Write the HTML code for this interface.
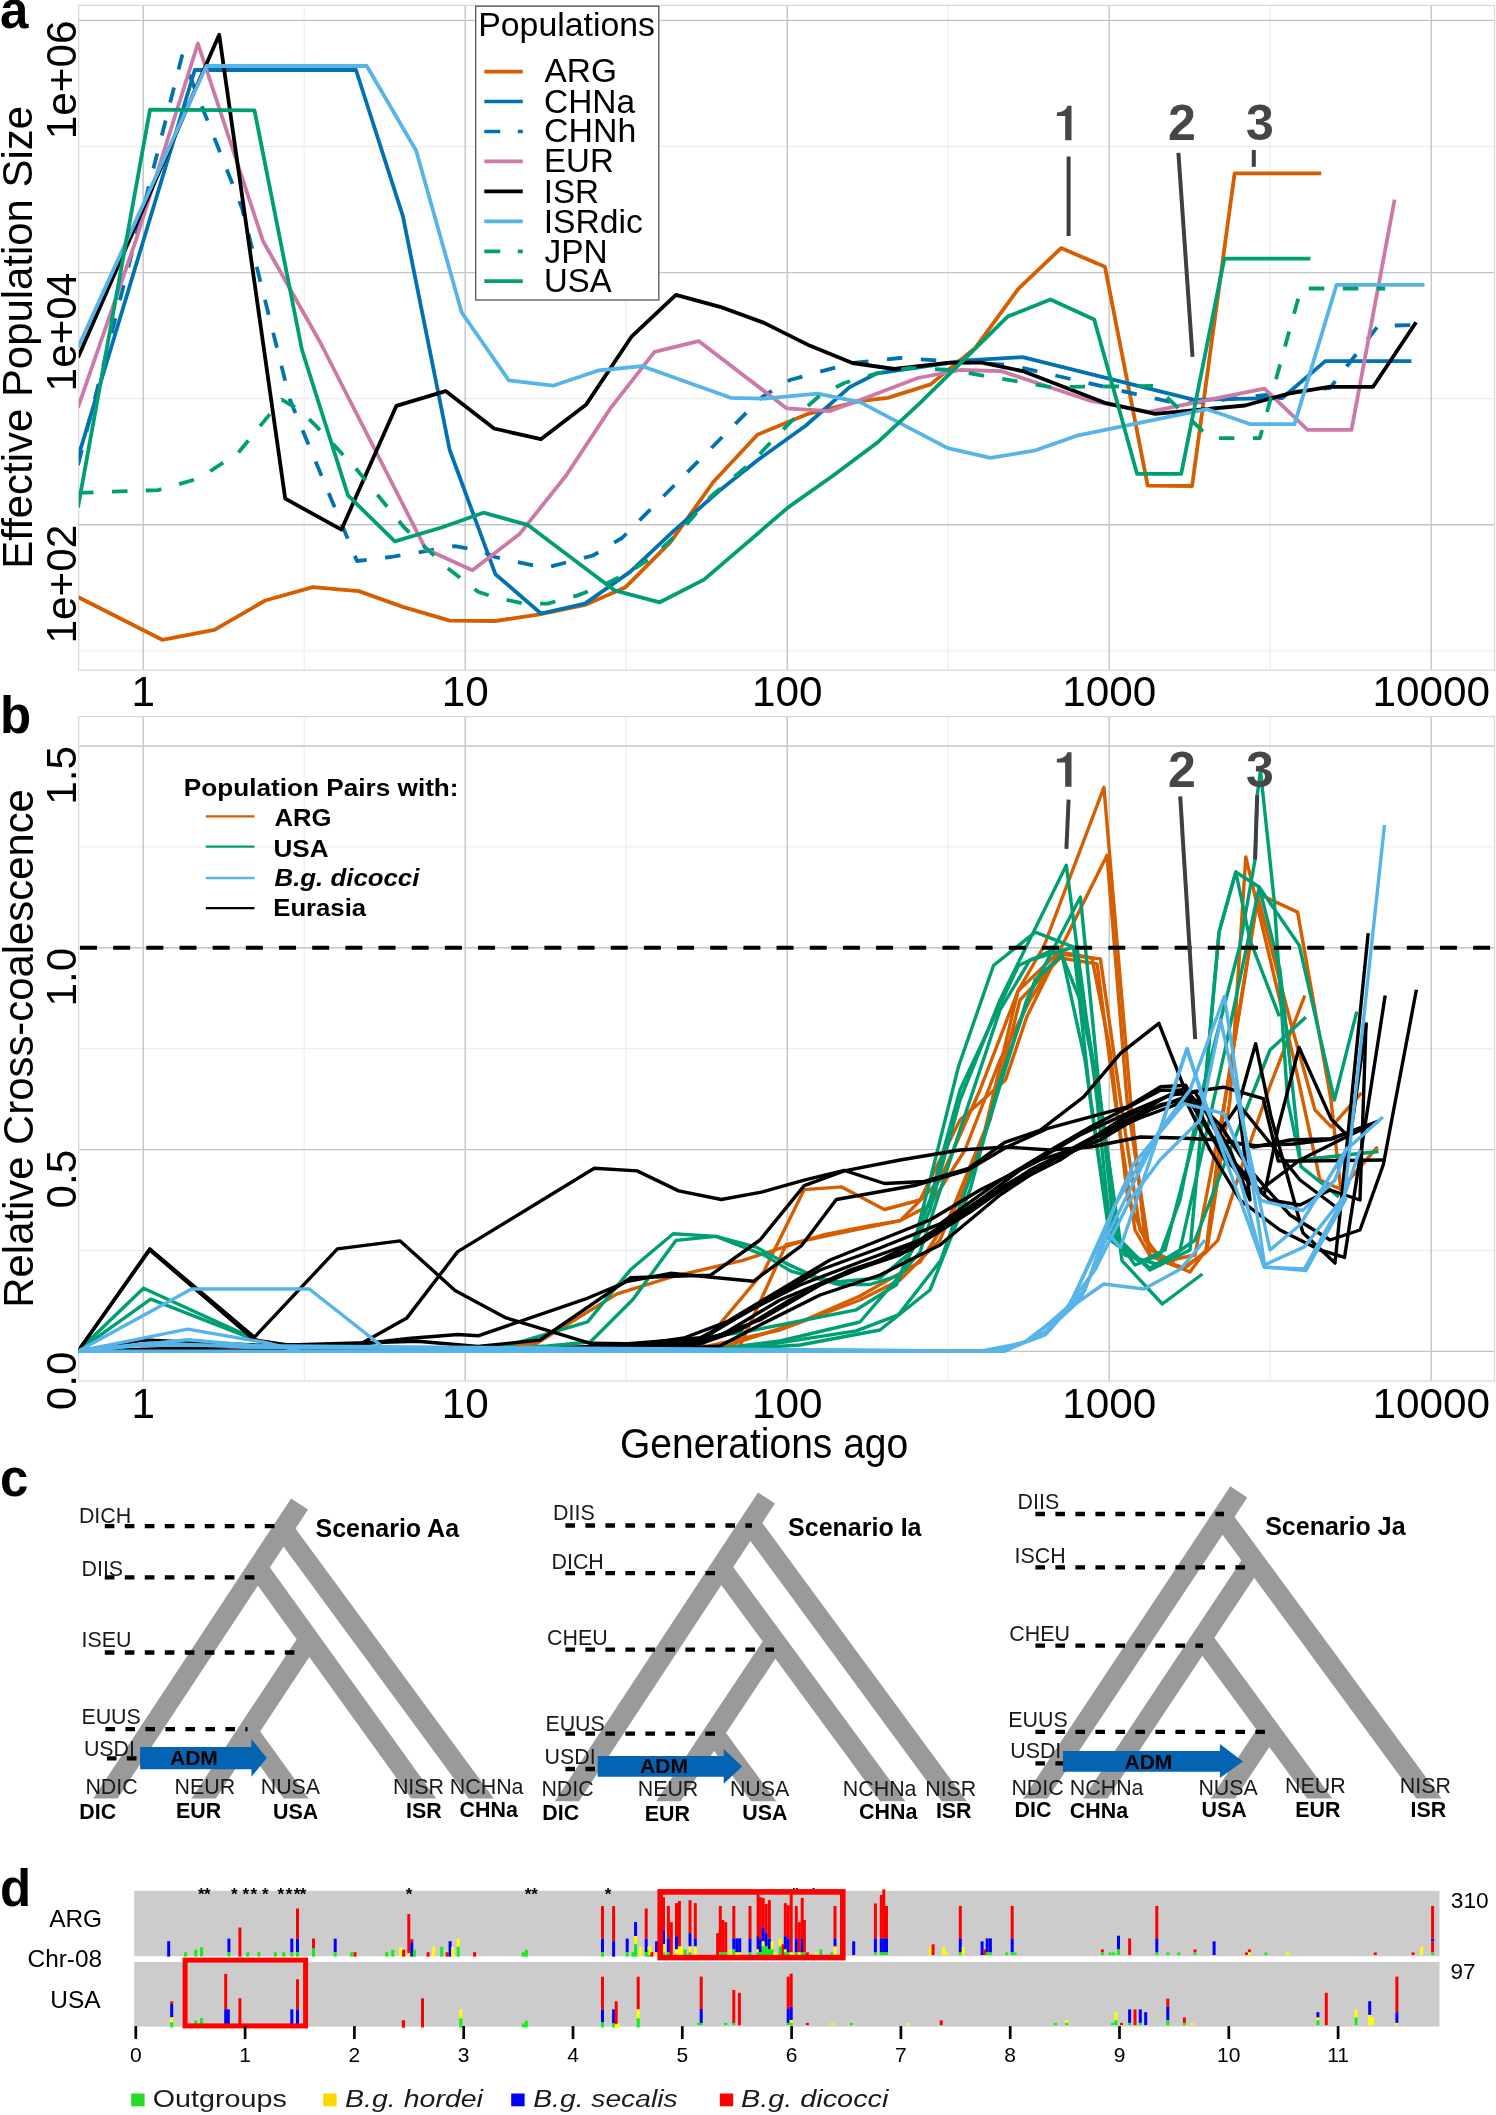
<!DOCTYPE html>
<html><head><meta charset="utf-8"><style>
html,body{margin:0;padding:0;background:#fff;overflow:hidden;width:1496px;height:2115px;}
svg{display:block;font-family:"Liberation Sans", sans-serif;will-change:transform;}
</style></head><body>
<svg width="1496" height="2115" viewBox="0 0 1496 2115">
<rect width="1496" height="2115" fill="#fff"/>
<line x1="304.2" y1="5.45" x2="304.2" y2="670.2" stroke="#ebebeb" stroke-width="1"/>
<line x1="626.2" y1="5.45" x2="626.2" y2="670.2" stroke="#ebebeb" stroke-width="1"/>
<line x1="948.2" y1="5.45" x2="948.2" y2="670.2" stroke="#ebebeb" stroke-width="1"/>
<line x1="1270.2" y1="5.45" x2="1270.2" y2="670.2" stroke="#ebebeb" stroke-width="1"/>
<line x1="78.7" y1="146.5" x2="1494.5" y2="146.5" stroke="#ebebeb" stroke-width="1"/>
<line x1="78.7" y1="398.7" x2="1494.5" y2="398.7" stroke="#ebebeb" stroke-width="1"/>
<line x1="78.7" y1="650.9" x2="1494.5" y2="650.9" stroke="#ebebeb" stroke-width="1"/>
<line x1="143.2" y1="5.45" x2="143.2" y2="670.2" stroke="#c4c4c4" stroke-width="1.4"/>
<line x1="465.2" y1="5.45" x2="465.2" y2="670.2" stroke="#c4c4c4" stroke-width="1.4"/>
<line x1="787.2" y1="5.45" x2="787.2" y2="670.2" stroke="#c4c4c4" stroke-width="1.4"/>
<line x1="1109.2" y1="5.45" x2="1109.2" y2="670.2" stroke="#c4c4c4" stroke-width="1.4"/>
<line x1="1431.2" y1="5.45" x2="1431.2" y2="670.2" stroke="#c4c4c4" stroke-width="1.4"/>
<line x1="78.7" y1="20.4" x2="1494.5" y2="20.4" stroke="#c4c4c4" stroke-width="1.4"/>
<line x1="78.7" y1="272.6" x2="1494.5" y2="272.6" stroke="#c4c4c4" stroke-width="1.4"/>
<line x1="78.7" y1="524.8" x2="1494.5" y2="524.8" stroke="#c4c4c4" stroke-width="1.4"/>
<rect x="78.7" y="5.45" width="1415.8" height="664.8" fill="none" stroke="#d8d8d8" stroke-width="1.2"/>
<line x1="304.2" y1="716.6" x2="304.2" y2="1381.0" stroke="#ebebeb" stroke-width="1"/>
<line x1="626.2" y1="716.6" x2="626.2" y2="1381.0" stroke="#ebebeb" stroke-width="1"/>
<line x1="948.2" y1="716.6" x2="948.2" y2="1381.0" stroke="#ebebeb" stroke-width="1"/>
<line x1="1270.2" y1="716.6" x2="1270.2" y2="1381.0" stroke="#ebebeb" stroke-width="1"/>
<line x1="78.7" y1="1250.5" x2="1494.5" y2="1250.5" stroke="#ebebeb" stroke-width="1"/>
<line x1="78.7" y1="1048.7" x2="1494.5" y2="1048.7" stroke="#ebebeb" stroke-width="1"/>
<line x1="78.7" y1="846.9" x2="1494.5" y2="846.9" stroke="#ebebeb" stroke-width="1"/>
<line x1="143.2" y1="716.6" x2="143.2" y2="1381.0" stroke="#c4c4c4" stroke-width="1.4"/>
<line x1="465.2" y1="716.6" x2="465.2" y2="1381.0" stroke="#c4c4c4" stroke-width="1.4"/>
<line x1="787.2" y1="716.6" x2="787.2" y2="1381.0" stroke="#c4c4c4" stroke-width="1.4"/>
<line x1="1109.2" y1="716.6" x2="1109.2" y2="1381.0" stroke="#c4c4c4" stroke-width="1.4"/>
<line x1="1431.2" y1="716.6" x2="1431.2" y2="1381.0" stroke="#c4c4c4" stroke-width="1.4"/>
<line x1="78.7" y1="1351.4" x2="1494.5" y2="1351.4" stroke="#c4c4c4" stroke-width="1.4"/>
<line x1="78.7" y1="1149.6" x2="1494.5" y2="1149.6" stroke="#c4c4c4" stroke-width="1.4"/>
<line x1="78.7" y1="947.8" x2="1494.5" y2="947.8" stroke="#c4c4c4" stroke-width="1.4"/>
<line x1="78.7" y1="746.0" x2="1494.5" y2="746.0" stroke="#c4c4c4" stroke-width="1.4"/>
<rect x="78.7" y="716.6" width="1415.8" height="664.4" fill="none" stroke="#d8d8d8" stroke-width="1.2"/>
<g clip-path="url(#clipA)">
<polyline points="78.0,597.0 162.2,639.8 214.4,629.9 265.2,600.5 312.8,587.1 358.7,591.1 402.9,606.9 449.7,620.6 495.4,621.0 539.5,614.3 585.0,605.0 625.1,587.6 670.5,542.1 713.3,482.0 757.4,434.7 808.2,413.8 860.0,401.0 887.8,397.9 930.6,384.4 975.5,347.6 1018.3,288.8 1061.1,248.1 1104.9,266.7 1147.7,485.6 1192.1,486.0 1234.6,173.4 1321.2,173.4" fill="none" stroke="#D55E00" stroke-width="3.8" stroke-linejoin="round" />
<polyline points="78.0,457.5 194.8,70.0 356.0,70.0 402.9,216.2 449.7,450.0 495.4,574.2 540.9,613.5 585.0,603.6 630.4,571.6 673.2,531.4 718.7,491.3 758.8,459.3 805.6,425.8 849.7,387.1 877.1,373.3 967.0,360.4 1022.6,357.2 1194.3,399.9 1282.3,398.0 1325.3,361.1 1411.4,361.1" fill="none" stroke="#0072B2" stroke-width="3.8" stroke-linejoin="round" />
<polyline points="78.0,465.0 182.0,56.0 242.0,208.0 290.0,400.0 357.0,561.0 390.8,557.0 455.0,546.2 478.0,550.2 495.0,557.0 545.0,568.0 593.0,555.5 622.0,538.0 762.0,397.0 790.0,380.0 852.0,363.0 900.0,358.0 960.0,362.0 1010.0,365.0 1180.0,404.3 1330.0,388.0 1378.0,326.0 1411.4,325.0" fill="none" stroke="#0072B2" stroke-width="3.8" stroke-linejoin="round" stroke-dasharray="15.5 18.5" />
<polyline points="78.0,407.5 136.0,240.0 197.9,43.5 263.0,241.0 320.0,342.0 425.6,548.9 472.4,570.3 519.5,534.1 566.3,475.3 610.4,408.4 654.5,351.8 698.6,341.1 786.8,408.4 829.6,411.1 860.0,400.0 917.8,378.0 960.5,370.0 1001.2,371.1 1091.0,401.0 1148.8,411.8 1264.5,388.6 1307.6,429.8 1351.5,429.8 1394.6,199.6" fill="none" stroke="#CC79A7" stroke-width="3.8" stroke-linejoin="round" />
<polyline points="78.0,357.5 219.2,34.7 285.2,498.6 341.4,529.7 396.3,405.9 445.6,391.1 494.1,428.5 540.9,439.2 586.3,404.4 631.8,336.3 675.9,294.8 720.0,306.8 764.1,322.9 809.6,345.6 852.4,363.0 894.2,369.0 949.8,362.6 981.9,362.6 1022.6,371.1 1106.0,403.2 1155.2,413.9 1244.9,405.5 1289.8,393.3 1329.1,386.8 1373.1,386.8 1416.1,322.2" fill="none" stroke="#000000" stroke-width="3.8" stroke-linejoin="round" />
<polyline points="78.0,347.5 206.3,66.0 366.8,66.0 416.2,150.7 461.7,312.5 508.8,380.4 552.9,385.7 598.3,370.5 642.5,366.2 730.7,397.8 764.1,398.6 817.6,393.7 860.0,402.1 947.7,448.1 990.5,457.8 1034.3,450.7 1078.2,435.3 1170.0,416.7 1207.4,409.2 1250.5,424.2 1294.5,424.2 1336.6,284.8 1424.5,284.8" fill="none" stroke="#56B4E9" stroke-width="3.8" stroke-linejoin="round" />
<polyline points="78.0,492.8 158.2,490.1 200.0,478.0 238.4,452.6 281.7,399.7 300.0,410.0 316.0,425.9 356.1,468.7 404.2,527.5 447.0,567.6 478.0,591.7 494.0,597.0 523.5,603.6 547.5,603.6 577.0,595.6 598.3,587.6 627.8,572.9 654.5,555.5 683.9,527.4 710.6,496.7 753.4,460.6 777.5,435.2 798.9,413.8 820.3,395.1 844.3,383.0 877.0,373.3 909.0,368.0 950.0,370.0 1050.0,387.0 1155.0,386.0 1210.0,438.0 1259.8,438.2 1301.0,288.5 1385.2,288.5" fill="none" stroke="#009E73" stroke-width="3.8" stroke-linejoin="round" stroke-dasharray="15.5 18.5" />
<polyline points="78.0,507.5 150.0,109.7 254.5,110.4 302.0,350.0 348.0,495.4 394.8,541.4 441.6,527.5 483.4,512.7 527.5,524.8 614.4,590.3 659.8,602.3 704.0,579.6 788.2,507.4 833.6,475.3 877.1,442.8 919.9,403.2 1007.6,316.6 1050.4,299.5 1094.2,319.4 1137.0,473.8 1181.2,473.8 1224.3,258.6 1310.4,258.6" fill="none" stroke="#009E73" stroke-width="3.8" stroke-linejoin="round" />
</g>
<defs><clipPath id="clipA"><rect x="78.7" y="5.45" width="1415.8" height="664.75"/></clipPath><clipPath id="clipB"><rect x="78.7" y="716.6" width="1415.8" height="664.4"/></clipPath></defs>
<line x1="1068.6" y1="156.5" x2="1068.6" y2="236" stroke="#3b4045" stroke-width="4"/>
<line x1="1178.4" y1="152.8" x2="1192.5" y2="356.8" stroke="#3b4045" stroke-width="4"/>
<line x1="1253.8" y1="150" x2="1253.8" y2="166.8" stroke="#3b4045" stroke-width="4"/>
<path transform="translate(0,0)" d="M1065.2,140.2 L1071.5,140.2 L1071.5,105.7 L1067.4,105.7 C1066.5,109.5 1063,112 1057,112.3 L1056.8,115.9 L1065.2,115.9 Z" fill="#464646"/>
<text x="1182.0" y="140.0" font-size="50" text-anchor="middle" font-weight="bold" font-style="normal" fill="#464646" >2</text>
<text x="1260.0" y="140.0" font-size="50" text-anchor="middle" font-weight="bold" font-style="normal" fill="#464646" >3</text>
<g clip-path="url(#clipB)">
<polyline points="78.0,1351.2 400.0,1351.2 536.8,1343.3 617.0,1293.9 673.2,1276.5 742.7,1260.4 788.2,1245.7 822.9,1235.0 870.0,1225.7 900.4,1220.6 940.0,1180.0 980.0,1090.0 1018.0,991.0 1044.0,946.0 1103.9,787.4 1130.5,1100.0 1145.0,1240.0 1165.0,1262.0 1185.0,1268.0 1207.0,1250.0 1230.0,1100.0 1245.8,856.9 1294.0,1060.0 1320.0,1180.0 1340.7,1189.3" fill="none" stroke="#D55E00" stroke-width="3.4" stroke-linejoin="round" />
<polyline points="78.0,1351.2 650.0,1351.2 702.6,1344.7 764.1,1271.1 804.2,1189.6 841.7,1186.9 884.4,1209.5 920.0,1200.0 960.0,1120.0 1005.5,1080.0 1026.8,1016.7 1107.0,855.2 1127.0,1100.0 1150.0,1255.0 1190.0,1272.0 1206.0,1250.0 1225.0,1100.0 1258.0,893.7 1297.6,912.1 1331.0,1100.0 1340.7,1189.3 1377.6,1146.8" fill="none" stroke="#D55E00" stroke-width="3.4" stroke-linejoin="round" />
<polyline points="78.0,1351.2 700.0,1348.0 780.0,1330.0 860.0,1300.0 900.0,1280.0 940.0,1240.0 985.0,1130.0 1018.0,991.0 1057.0,953.8 1100.4,958.9 1120.5,1100.0 1140.0,1230.0 1162.0,1262.0 1195.0,1255.0 1225.0,1100.0 1258.0,897.0 1290.0,1020.0 1315.0,1110.0 1331.3,1126.9 1361.5,1092.9" fill="none" stroke="#D55E00" stroke-width="3.4" stroke-linejoin="round" />
<polyline points="78.0,1351.2 720.0,1348.0 800.0,1322.0 860.0,1296.0 920.0,1262.0 960.0,1200.0 990.0,1120.0 1020.0,1000.0 1060.0,958.0 1097.1,963.9 1115.0,1100.0 1135.0,1230.0 1150.0,1256.0 1181.6,1268.5 1204.6,1253.6 1217.8,1240.4 1242.4,1164.7 1268.9,1089.0 1304.8,995.5" fill="none" stroke="#D55E00" stroke-width="3.4" stroke-linejoin="round" />
<polyline points="78.0,1351.2 740.0,1346.0 786.1,1244.6 830.0,1235.0 900.4,1220.6 930.0,1205.0 965.0,1150.0 1000.0,1060.0 1030.0,1000.0 1060.0,952.0 1092.0,958.0 1110.0,1050.0 1128.0,1200.0 1150.0,1250.0 1175.0,1262.0" fill="none" stroke="#D55E00" stroke-width="3.4" stroke-linejoin="round" />
<polyline points="78.0,1351.2 143.5,1288.2 265.2,1343.8 420.0,1351.2 502.1,1347.3 587.6,1321.9 630.4,1269.8 673.2,1233.7 716.0,1236.4 756.1,1247.1 785.5,1263.1 817.6,1277.8 839.0,1281.8 880.4,1277.7 912.4,1250.7 958.6,1066.2 993.5,965.5 1035.3,932.1 1073.7,947.2 1090.4,1100.0 1110.0,1240.0 1140.0,1262.0 1165.0,1250.0 1204.0,1100.0 1219.1,932.1 1235.8,872.0 1259.2,887.0 1299.3,945.5 1334.4,1100.0 1356.8,1011.6" fill="none" stroke="#009E73" stroke-width="3.4" stroke-linejoin="round" />
<polyline points="78.0,1351.2 150.7,1299.2 265.2,1343.8 450.0,1351.2 547.5,1346.0 590.3,1342.0 633.1,1299.2 675.9,1240.4 716.0,1236.4 764.1,1255.1 790.9,1271.1 839.0,1284.5 870.0,1284.5 900.0,1275.0 930.0,1200.0 960.0,1090.0 1018.5,965.5 1058.6,947.2 1080.0,1000.0 1100.4,1100.0 1115.0,1240.0 1150.0,1268.0 1180.0,1250.0 1225.0,1050.0 1259.2,887.0 1280.0,970.0 1301.0,1166.6 1338.8,1196.9" fill="none" stroke="#009E73" stroke-width="3.4" stroke-linejoin="round" />
<polyline points="78.0,1351.2 300.0,1351.2 600.0,1349.5 740.0,1332.9 856.3,1309.8 896.4,1284.7 930.0,1210.0 960.0,1100.0 1000.0,1000.0 1066.3,865.3 1097.1,1100.0 1110.0,1230.0 1135.0,1265.0 1160.0,1255.0 1180.0,1200.0 1200.0,1100.0 1240.0,945.0 1255.1,859.5 1257.2,795.3 1260.5,771.0 1274.2,900.4 1287.6,1100.0 1300.0,1160.0 1378.6,1151.5" fill="none" stroke="#009E73" stroke-width="3.4" stroke-linejoin="round" />
<polyline points="78.0,1351.2 300.0,1351.2 740.0,1348.9 856.3,1330.9 898.4,1314.8 940.5,1260.7 980.0,1150.0 1026.7,1000.0 1080.4,897.0 1100.4,1100.0 1122.0,1260.6 1162.3,1304.0 1202.4,1274.0" fill="none" stroke="#009E73" stroke-width="3.4" stroke-linejoin="round" />
<polyline points="78.0,1351.2 143.0,1340.0 250.0,1347.0 700.0,1351.2 780.0,1341.0 860.0,1322.0 920.0,1252.0 960.0,1130.0 1000.0,1010.0 1030.0,960.0 1073.7,947.2 1100.0,1100.0 1120.0,1240.0 1150.0,1270.0 1190.0,1250.0 1219.0,932.0 1235.8,872.0 1250.0,940.0 1279.3,1016.3" fill="none" stroke="#009E73" stroke-width="3.4" stroke-linejoin="round" />
<polyline points="78.0,1351.2 700.0,1351.2 800.0,1345.0 880.0,1330.0 930.0,1290.0 970.0,1190.0 1000.0,1080.0 1035.0,980.0 1062.0,955.0 1085.0,1060.0 1105.0,1200.0 1125.0,1255.0 1160.0,1265.0 1195.0,1240.0 1230.0,1150.0 1270.0,1050.0 1305.8,1017.2" fill="none" stroke="#009E73" stroke-width="3.4" stroke-linejoin="round" />
<polyline points="78.0,1351.2 149.7,1248.9 254.5,1337.2 337.4,1248.9 400.2,1240.9 455.0,1290.4 506.1,1317.9 590.3,1343.3 643.8,1343.9 683.9,1338.0 726.7,1321.9 780.0,1290.0 830.0,1260.0 880.0,1240.0 930.0,1220.0 980.0,1190.0 1040.0,1160.0 1100.0,1140.0 1160.0,1100.0 1185.0,1088.0 1214.0,1140.0 1255.6,1145.8 1293.5,1144.0 1331.3,1139.2 1378.6,1121.2" fill="none" stroke="#000000" stroke-width="3.4" stroke-linejoin="round" />
<polyline points="78.0,1351.2 149.7,1250.0 254.5,1340.0 300.0,1347.0 500.0,1351.2 600.0,1347.0 700.0,1342.0 760.0,1320.0 820.0,1285.0 880.0,1260.0 940.0,1230.0 1000.0,1190.0 1060.0,1160.0 1120.0,1120.0 1170.0,1095.0 1223.5,1087.2 1263.2,1098.6 1278.3,1161.0 1301.0,1161.0 1384.2,1160.0" fill="none" stroke="#000000" stroke-width="3.4" stroke-linejoin="round" />
<polyline points="78.0,1351.2 143.0,1340.0 254.5,1345.0 356.0,1346.5 406.9,1317.9 457.7,1251.6 594.3,1168.2 637.1,1170.9 678.6,1190.9 721.3,1199.5 761.4,1192.2 804.2,1180.2 844.3,1170.4 884.4,1183.5 924.5,1181.5 968.6,1168.4 1004.7,1142.4 1040.0,1130.3 1083.7,1096.9 1120.5,1053.4 1158.9,1023.3 1189.0,1100.2 1214.0,1140.0 1238.6,1104.2 1255.6,1043.7 1270.8,1115.6 1302.9,1232.8 1335.0,1263.1 1368.2,933.1" fill="none" stroke="#000000" stroke-width="3.4" stroke-linejoin="round" />
<polyline points="78.0,1351.2 300.0,1351.2 408.2,1338.5 457.7,1334.5 478.0,1335.8 585.0,1299.2 627.8,1281.3 670.5,1273.3 753.4,1281.3 801.5,1245.7 836.3,1199.5 914.5,1185.5 968.0,1170.0 1006.8,1147.0 1046.9,1128.6 1127.2,1106.9 1160.6,1086.8 1185.7,1085.2 1214.1,1140.3 1264.2,1195.0 1278.3,1127.0 1299.1,1047.5 1331.3,1119.4 1344.5,1132.6" fill="none" stroke="#000000" stroke-width="3.4" stroke-linejoin="round" />
<polyline points="78.0,1351.2 417.6,1341.2 478.0,1346.5 540.0,1340.0 630.4,1277.8 710.6,1275.1 760.0,1240.0 804.2,1185.6 844.3,1170.9 900.0,1160.0 960.0,1150.0 1006.8,1147.0 1050.0,1150.0 1090.4,1147.0 1140.5,1137.0 1180.0,1138.0 1224.1,1140.3 1254.2,1147.0 1290.0,1140.0 1331.0,1138.7 1367.8,1125.0" fill="none" stroke="#000000" stroke-width="3.4" stroke-linejoin="round" />
<polyline points="78.0,1351.2 500.0,1351.2 600.0,1346.0 700.0,1338.0 760.0,1305.0 820.0,1270.0 880.0,1248.0 940.0,1223.9 1000.2,1180.4 1050.3,1150.3 1090.4,1127.0 1160.6,1090.2 1180.6,1090.2 1210.0,1150.0 1240.0,1200.0 1280.0,1230.0 1320.0,1250.0 1344.5,1257.4 1385.2,995.5" fill="none" stroke="#000000" stroke-width="3.4" stroke-linejoin="round" />
<polyline points="78.0,1351.2 520.0,1351.2 620.0,1346.0 700.0,1340.0 750.0,1310.0 800.0,1285.0 860.0,1262.0 920.0,1240.0 980.0,1200.0 1040.0,1165.0 1100.0,1140.0 1150.0,1110.0 1190.0,1095.0 1220.0,1125.0 1250.0,1170.0 1290.0,1215.0 1330.0,1240.0 1360.0,1230.0 1383.3,1164.7 1416.4,989.8" fill="none" stroke="#000000" stroke-width="3.4" stroke-linejoin="round" />
<polyline points="78.0,1351.2 560.0,1351.2 650.0,1346.0 720.0,1336.0 780.0,1300.0 840.0,1275.0 900.0,1255.0 960.0,1215.0 1020.0,1170.0 1080.0,1135.0 1130.0,1112.0 1170.0,1095.0 1195.0,1092.0 1230.0,1150.0 1250.0,1200.0 1238.6,1104.2 1300.0,1180.0 1340.0,1210.0 1366.3,1022.9" fill="none" stroke="#000000" stroke-width="3.4" stroke-linejoin="round" />
<polyline points="78.0,1351.2 600.0,1351.2 700.0,1344.0 740.0,1330.0 790.0,1300.0 850.0,1270.0 910.0,1250.0 970.0,1212.0 1030.0,1170.0 1090.0,1140.0 1140.0,1118.0 1175.0,1105.0 1200.0,1100.0 1235.0,1170.0 1270.0,1200.0 1300.0,1205.0 1330.0,1190.0 1360.0,1200.0 1366.1,1022.4" fill="none" stroke="#000000" stroke-width="3.4" stroke-linejoin="round" />
<polyline points="78.0,1351.2 640.0,1351.2 720.0,1346.0 760.0,1325.0 820.0,1295.0 880.0,1275.0 940.0,1245.0 1000.0,1195.0 1060.0,1155.0 1110.0,1128.0 1160.0,1105.0 1190.0,1098.0 1225.0,1160.0 1260.0,1190.0 1300.0,1160.0 1340.0,1140.0 1378.6,1121.2" fill="none" stroke="#000000" stroke-width="3.4" stroke-linejoin="round" />
<polyline points="78.0,1351.2 191.6,1289.0 309.3,1289.0 388.2,1351.2 980.0,1351.2 1023.6,1343.0 1065.3,1310.8 1103.8,1284.0 1143.9,1289.0 1180.6,1269.0 1205.0,1240.0" fill="none" stroke="#56B4E9" stroke-width="3.4" stroke-linejoin="round" />
<polyline points="78.0,1351.2 187.6,1329.1 265.2,1342.5 300.0,1351.2 990.0,1351.2 1025.0,1342.0 1066.0,1312.0 1105.4,1230.6 1120.5,1247.3 1140.0,1190.0 1187.3,1048.4 1204.0,1103.6 1240.0,1180.0 1264.2,1267.3 1304.3,1269.0 1344.4,1197.1 1384.5,825.0" fill="none" stroke="#56B4E9" stroke-width="3.4" stroke-linejoin="round" />
<polyline points="78.0,1351.2 187.6,1339.8 270.0,1347.0 1000.0,1351.2 1030.0,1340.0 1070.0,1305.0 1133.9,1163.7 1184.0,1103.6 1224.1,1113.6 1260.9,1200.5 1302.6,1210.5 1335.0,1180.0 1346.0,1150.0 1382.9,1116.9" fill="none" stroke="#56B4E9" stroke-width="3.4" stroke-linejoin="round" />
<polyline points="78.0,1351.2 150.0,1343.0 250.0,1347.0 1000.0,1351.2 1040.0,1337.0 1080.0,1300.0 1110.0,1230.0 1160.0,1130.0 1190.0,1090.0 1224.4,996.4 1264.6,1264.9 1304.3,1246.9 1344.0,1196.3 1360.0,1150.0" fill="none" stroke="#56B4E9" stroke-width="3.4" stroke-linejoin="round" />
<polyline points="78.0,1351.2 143.0,1345.0 1000.0,1351.2 1045.0,1335.0 1085.0,1290.0 1115.0,1205.0 1160.0,1130.0 1186.6,1049.4 1215.0,1130.0 1264.2,1266.9 1305.8,1270.6 1346.4,1197.8" fill="none" stroke="#56B4E9" stroke-width="3.4" stroke-linejoin="round" />
<polyline points="78.0,1351.2 1005.0,1351.2 1050.0,1330.0 1095.0,1270.0 1130.0,1200.0 1160.0,1160.0 1200.0,1120.0 1220.7,1020.0 1240.0,1110.0 1270.0,1250.0 1300.0,1225.0 1347.7,1147.0" fill="none" stroke="#56B4E9" stroke-width="3.4" stroke-linejoin="round" />
</g>
<line x1="80" y1="947.8" x2="1494" y2="947.8" stroke="#000" stroke-width="4" stroke-dasharray="17 16.17"/>
<line x1="1068.6" y1="799.6" x2="1066.4" y2="848.8" stroke="#3b4045" stroke-width="4"/>
<line x1="1180.2" y1="796.4" x2="1195.2" y2="1039.1" stroke="#3b4045" stroke-width="4"/>
<line x1="1257.2" y1="795.3" x2="1255.1" y2="859.5" stroke="#3b4045" stroke-width="4"/>
<path transform="translate(0,646.5)" d="M1065.2,140.2 L1071.5,140.2 L1071.5,105.7 L1067.4,105.7 C1066.5,109.5 1063,112 1057,112.3 L1056.8,115.9 L1065.2,115.9 Z" fill="#464646"/>
<text x="1182.0" y="786.7" font-size="50" text-anchor="middle" font-weight="bold" font-style="normal" fill="#464646" >2</text>
<text x="1260.0" y="786.7" font-size="50" text-anchor="middle" font-weight="bold" font-style="normal" fill="#464646" >3</text>
<text x="143.2" y="706.4" font-size="42.3" text-anchor="middle" font-weight="normal" font-style="normal" fill="#000" >1</text>
<text x="143.2" y="1418.1" font-size="42.3" text-anchor="middle" font-weight="normal" font-style="normal" fill="#000" >1</text>
<text x="465.2" y="706.4" font-size="42.3" text-anchor="middle" font-weight="normal" font-style="normal" fill="#000" >10</text>
<text x="465.2" y="1418.1" font-size="42.3" text-anchor="middle" font-weight="normal" font-style="normal" fill="#000" >10</text>
<text x="787.2" y="706.4" font-size="42.3" text-anchor="middle" font-weight="normal" font-style="normal" fill="#000" >100</text>
<text x="787.2" y="1418.1" font-size="42.3" text-anchor="middle" font-weight="normal" font-style="normal" fill="#000" >100</text>
<text x="1109.2" y="706.4" font-size="42.3" text-anchor="middle" font-weight="normal" font-style="normal" fill="#000" >1000</text>
<text x="1109.2" y="1418.1" font-size="42.3" text-anchor="middle" font-weight="normal" font-style="normal" fill="#000" >1000</text>
<text x="1431.2" y="706.4" font-size="42.3" text-anchor="middle" font-weight="normal" font-style="normal" fill="#000" >10000</text>
<text x="1431.2" y="1418.1" font-size="42.3" text-anchor="middle" font-weight="normal" font-style="normal" fill="#000" >10000</text>
<text transform="translate(76.0,20.4) rotate(-90)" font-size="42.3" text-anchor="end" font-weight="normal">1e+06</text>
<text transform="translate(76.0,272.6) rotate(-90)" font-size="42.3" text-anchor="end" font-weight="normal">1e+04</text>
<text transform="translate(76.0,524.8) rotate(-90)" font-size="42.3" text-anchor="end" font-weight="normal">1e+02</text>
<text transform="translate(76.0,1351.4) rotate(-90)" font-size="42.3" text-anchor="end" font-weight="normal">0.0</text>
<text transform="translate(76.0,1149.6) rotate(-90)" font-size="42.3" text-anchor="end" font-weight="normal">0.5</text>
<text transform="translate(76.0,947.8) rotate(-90)" font-size="42.3" text-anchor="end" font-weight="normal">1.0</text>
<text transform="translate(76.0,746.0) rotate(-90)" font-size="42.3" text-anchor="end" font-weight="normal">1.5</text>
<text transform="translate(32.4,337.3) rotate(-90)" font-size="42" text-anchor="middle" font-weight="normal" textLength="462.69" lengthAdjust="spacingAndGlyphs">Effective Population Size</text>
<text transform="translate(33.0,1048.4) rotate(-90)" font-size="42" text-anchor="middle" font-weight="normal" textLength="518.49" lengthAdjust="spacingAndGlyphs">Relative Cross-coalescence</text>
<text x="620.0" y="1457.5" font-size="42.5" text-anchor="start" font-weight="normal" font-style="normal" fill="#000" textLength="288.20" lengthAdjust="spacingAndGlyphs" >Generations ago</text>
<text x="0.0" y="27.6" font-size="51" text-anchor="start" font-weight="bold" font-style="normal" fill="#000" >a</text>
<text x="0.0" y="733.0" font-size="51" text-anchor="start" font-weight="bold" font-style="normal" fill="#000" >b</text>
<text x="0.0" y="1495.8" font-size="51" text-anchor="start" font-weight="bold" font-style="normal" fill="#000" >c</text>
<text x="0.0" y="1906.4" font-size="51" text-anchor="start" font-weight="bold" font-style="normal" fill="#000" >d</text>
<rect x="475.7" y="6.2" width="183.1" height="293.8" fill="#fff" stroke="#555" stroke-width="1.3"/>
<text x="478.2" y="36.0" font-size="33.2" text-anchor="start" font-weight="normal" font-style="normal" fill="#000" textLength="176.80" lengthAdjust="spacingAndGlyphs" >Populations</text>
<line x1="484.3" y1="71.6" x2="522.8" y2="71.6" stroke="#D55E00" stroke-width="3.7"/>
<text x="544.5" y="82.4" font-size="32.3" text-anchor="start" font-weight="normal" font-style="normal" fill="#000" textLength="72.36" lengthAdjust="spacingAndGlyphs" >ARG</text>
<line x1="484.3" y1="101.5" x2="522.8" y2="101.5" stroke="#0072B2" stroke-width="3.7"/>
<text x="544.0" y="112.5" font-size="32.3" text-anchor="start" font-weight="normal" font-style="normal" fill="#000" textLength="91.00" lengthAdjust="spacingAndGlyphs" >CHNa</text>
<line x1="484.3" y1="131.5" x2="522.8" y2="131.5" stroke="#0072B2" stroke-width="3.7" stroke-dasharray="16 17.5 5 100"/>
<text x="544.0" y="142.4" font-size="32.3" text-anchor="start" font-weight="normal" font-style="normal" fill="#000" textLength="92.22" lengthAdjust="spacingAndGlyphs" >CHNh</text>
<line x1="484.3" y1="161.4" x2="522.8" y2="161.4" stroke="#CC79A7" stroke-width="3.7"/>
<text x="544.1" y="172.4" font-size="32.3" text-anchor="start" font-weight="normal" font-style="normal" fill="#000" textLength="69.64" lengthAdjust="spacingAndGlyphs" >EUR</text>
<line x1="484.3" y1="191.4" x2="522.8" y2="191.4" stroke="#000000" stroke-width="3.7"/>
<text x="543.7" y="202.6" font-size="32.3" text-anchor="start" font-weight="normal" font-style="normal" fill="#000" textLength="55.30" lengthAdjust="spacingAndGlyphs" >ISR</text>
<line x1="484.3" y1="221.3" x2="522.8" y2="221.3" stroke="#56B4E9" stroke-width="3.7"/>
<text x="543.7" y="232.6" font-size="32.3" text-anchor="start" font-weight="normal" font-style="normal" fill="#000" textLength="99.09" lengthAdjust="spacingAndGlyphs" >ISRdic</text>
<line x1="484.3" y1="251.3" x2="522.8" y2="251.3" stroke="#009E73" stroke-width="3.7" stroke-dasharray="16 17.5 5 100"/>
<text x="544.5" y="262.5" font-size="32.3" text-anchor="start" font-weight="normal" font-style="normal" fill="#000" textLength="63.15" lengthAdjust="spacingAndGlyphs" >JPN</text>
<line x1="484.3" y1="281.2" x2="522.8" y2="281.2" stroke="#009E73" stroke-width="3.7"/>
<text x="544.0" y="292.4" font-size="32.3" text-anchor="start" font-weight="normal" font-style="normal" fill="#000" textLength="67.60" lengthAdjust="spacingAndGlyphs" >USA</text>
<text x="183.8" y="796.2" font-size="24.5" text-anchor="start" font-weight="bold" font-style="normal" fill="#000" textLength="274.77" lengthAdjust="spacingAndGlyphs" >Population Pairs with:</text>
<line x1="205.8" y1="816.4" x2="254.5" y2="816.4" stroke="#D55E00" stroke-width="2.3"/>
<text x="274.4" y="826.1" font-size="24.4" text-anchor="start" font-weight="bold" font-style="normal" fill="#000" textLength="56.93" lengthAdjust="spacingAndGlyphs" >ARG</text>
<line x1="205.8" y1="846.7" x2="254.5" y2="846.7" stroke="#009E73" stroke-width="2.3"/>
<text x="273.4" y="856.5" font-size="24.4" text-anchor="start" font-weight="bold" font-style="normal" fill="#000" textLength="55.16" lengthAdjust="spacingAndGlyphs" >USA</text>
<line x1="205.8" y1="878.0" x2="254.5" y2="878.0" stroke="#56B4E9" stroke-width="2.3"/>
<text x="274.5" y="886.3" font-size="24.4" text-anchor="start" font-weight="bold" font-style="italic" fill="#000" textLength="144.91" lengthAdjust="spacingAndGlyphs" >B.g. dicocci</text>
<line x1="205.8" y1="908.1" x2="254.5" y2="908.1" stroke="#000000" stroke-width="2.3"/>
<text x="273.3" y="916.4" font-size="24.4" text-anchor="start" font-weight="bold" font-style="normal" fill="#000" textLength="92.75" lengthAdjust="spacingAndGlyphs" >Eurasia</text>
<defs><clipPath id="clipTA"><rect x="0" y="1400" width="1496" height="398.4"/></clipPath></defs>
<g clip-path="url(#clipTA)" stroke="#9a9a9a" stroke-width="20.3" stroke-linecap="butt" fill="none">
<line x1="299.6" y1="1504.0" x2="94.4" y2="1815.1"/>
<line x1="283.2" y1="1529.0" x2="493.0" y2="1814.5"/>
<line x1="257.6" y1="1567.8" x2="435.3" y2="1814.6"/>
<line x1="308.9" y1="1639.1" x2="192.8" y2="1815.1"/>
<line x1="247.9" y1="1731.6" x2="307.7" y2="1814.6"/>
</g>
<line x1="104.8" y1="1526.1" x2="280.0" y2="1526.1" stroke="#000" stroke-width="4.3" stroke-dasharray="9.6 10.4"/>
<line x1="104.8" y1="1577.4" x2="258.0" y2="1577.4" stroke="#000" stroke-width="4.3" stroke-dasharray="9.6 10.4"/>
<line x1="104.8" y1="1652.5" x2="298.0" y2="1652.5" stroke="#000" stroke-width="4.3" stroke-dasharray="9.6 10.4"/>
<line x1="105.4" y1="1729.2" x2="247.5" y2="1729.2" stroke="#000" stroke-width="4.3" stroke-dasharray="9.6 10.4"/>
<line x1="106.9" y1="1758.4" x2="140.0" y2="1758.4" stroke="#000" stroke-width="4.3" stroke-dasharray="9.6 10.4"/>
<text x="78.9" y="1523.0" font-size="21.4" text-anchor="start" font-weight="normal" font-style="normal" fill="#1a1a1a" >DICH</text>
<text x="81.5" y="1576.0" font-size="21.4" text-anchor="start" font-weight="normal" font-style="normal" fill="#1a1a1a" >DIIS</text>
<text x="81.5" y="1647.3" font-size="21.4" text-anchor="start" font-weight="normal" font-style="normal" fill="#1a1a1a" >ISEU</text>
<text x="81.4" y="1723.6" font-size="21.4" text-anchor="start" font-weight="normal" font-style="normal" fill="#1a1a1a" >EUUS</text>
<text x="83.9" y="1756.2" font-size="21.4" text-anchor="start" font-weight="normal" font-style="normal" fill="#1a1a1a" >USDI</text>
<text x="85.4" y="1793.7" font-size="21.4" text-anchor="start" font-weight="normal" font-style="normal" fill="#1a1a1a" >NDIC</text>
<text x="174.5" y="1793.7" font-size="21.4" text-anchor="start" font-weight="normal" font-style="normal" fill="#1a1a1a" >NEUR</text>
<text x="260.7" y="1793.7" font-size="21.4" text-anchor="start" font-weight="normal" font-style="normal" fill="#1a1a1a" >NUSA</text>
<text x="392.9" y="1793.7" font-size="21.4" text-anchor="start" font-weight="normal" font-style="normal" fill="#1a1a1a" >NISR</text>
<text x="449.8" y="1793.7" font-size="21.4" text-anchor="start" font-weight="normal" font-style="normal" fill="#1a1a1a" >NCHNa</text>
<text x="79.3" y="1819.0" font-size="21.4" text-anchor="start" font-weight="bold" font-style="normal" fill="#000" >DIC</text>
<text x="176.1" y="1817.7" font-size="21.4" text-anchor="start" font-weight="bold" font-style="normal" fill="#000" >EUR</text>
<text x="273.0" y="1819.0" font-size="21.4" text-anchor="start" font-weight="bold" font-style="normal" fill="#000" >USA</text>
<text x="406.1" y="1817.7" font-size="21.4" text-anchor="start" font-weight="bold" font-style="normal" fill="#000" >ISR</text>
<text x="459.6" y="1816.5" font-size="21.4" text-anchor="start" font-weight="bold" font-style="normal" fill="#000" >CHNa</text>
<text x="315.5" y="1537.2" font-size="25" text-anchor="start" font-weight="bold" font-style="normal" fill="#000" >Scenario Aa</text>
<path d="M140.1,1747.0 L251.4,1747.0 L251.4,1739.0 L266.8,1758.1 L251.4,1776.8 L251.4,1769.2 L140.1,1769.2 Z" fill="#0563B3"/>
<text x="170.0" y="1764.5" font-size="21" text-anchor="start" font-weight="bold" font-style="normal" fill="#000" >ADM</text>
<defs><clipPath id="clipTI"><rect x="0" y="1400" width="1496" height="401.3"/></clipPath></defs>
<g clip-path="url(#clipTI)" stroke="#9a9a9a" stroke-width="20.3" stroke-linecap="butt" fill="none">
<line x1="766.5" y1="1498.0" x2="555.9" y2="1818.0"/>
<line x1="749.9" y1="1523.2" x2="966.1" y2="1817.4"/>
<line x1="720.8" y1="1567.3" x2="904.6" y2="1817.4"/>
<line x1="775.0" y1="1641.0" x2="657.3" y2="1818.0"/>
<line x1="713.7" y1="1733.2" x2="775.5" y2="1817.4"/>
</g>
<line x1="565.4" y1="1525.5" x2="752.0" y2="1525.5" stroke="#000" stroke-width="4.3" stroke-dasharray="9.6 10.4"/>
<line x1="565.4" y1="1573.2" x2="718.0" y2="1573.2" stroke="#000" stroke-width="4.3" stroke-dasharray="9.6 10.4"/>
<line x1="565.4" y1="1649.7" x2="774.0" y2="1649.7" stroke="#000" stroke-width="4.3" stroke-dasharray="9.6 10.4"/>
<line x1="565.4" y1="1733.7" x2="716.0" y2="1733.7" stroke="#000" stroke-width="4.3" stroke-dasharray="9.6 10.4"/>
<line x1="565.4" y1="1769.0" x2="598.0" y2="1769.0" stroke="#000" stroke-width="4.3" stroke-dasharray="9.6 10.4"/>
<text x="553.1" y="1520.0" font-size="21.4" text-anchor="start" font-weight="normal" font-style="normal" fill="#1a1a1a" >DIIS</text>
<text x="551.5" y="1568.6" font-size="21.4" text-anchor="start" font-weight="normal" font-style="normal" fill="#1a1a1a" >DICH</text>
<text x="547.0" y="1645.4" font-size="21.4" text-anchor="start" font-weight="normal" font-style="normal" fill="#1a1a1a" >CHEU</text>
<text x="545.4" y="1730.6" font-size="21.4" text-anchor="start" font-weight="normal" font-style="normal" fill="#1a1a1a" >EUUS</text>
<text x="544.5" y="1763.5" font-size="21.4" text-anchor="start" font-weight="normal" font-style="normal" fill="#1a1a1a" >USDI</text>
<text x="541.4" y="1796.1" font-size="21.4" text-anchor="start" font-weight="normal" font-style="normal" fill="#1a1a1a" >NDIC</text>
<text x="637.7" y="1796.1" font-size="21.4" text-anchor="start" font-weight="normal" font-style="normal" fill="#1a1a1a" >NEUR</text>
<text x="729.9" y="1796.1" font-size="21.4" text-anchor="start" font-weight="normal" font-style="normal" fill="#1a1a1a" >NUSA</text>
<text x="842.8" y="1796.1" font-size="21.4" text-anchor="start" font-weight="normal" font-style="normal" fill="#1a1a1a" >NCHNa</text>
<text x="925.2" y="1796.1" font-size="21.4" text-anchor="start" font-weight="normal" font-style="normal" fill="#1a1a1a" >NISR</text>
<text x="542.3" y="1819.8" font-size="21.4" text-anchor="start" font-weight="bold" font-style="normal" fill="#000" >DIC</text>
<text x="644.7" y="1821.3" font-size="21.4" text-anchor="start" font-weight="bold" font-style="normal" fill="#000" >EUR</text>
<text x="742.2" y="1819.8" font-size="21.4" text-anchor="start" font-weight="bold" font-style="normal" fill="#000" >USA</text>
<text x="859.1" y="1818.9" font-size="21.4" text-anchor="start" font-weight="bold" font-style="normal" fill="#000" >CHNa</text>
<text x="935.9" y="1818.0" font-size="21.4" text-anchor="start" font-weight="bold" font-style="normal" fill="#000" >ISR</text>
<text x="788.1" y="1536.0" font-size="25" text-anchor="start" font-weight="bold" font-style="normal" fill="#000" >Scenario Ia</text>
<path d="M597.7,1756.1 L723.7,1756.1 L723.7,1749.0 L742.2,1766.4 L723.7,1783.8 L723.7,1776.7 L597.7,1776.7 Z" fill="#0563B3"/>
<text x="640.1" y="1772.7" font-size="21" text-anchor="start" font-weight="bold" font-style="normal" fill="#000" >ADM</text>
<defs><clipPath id="clipTJ"><rect x="0" y="1400" width="1496" height="398.5"/></clipPath></defs>
<g clip-path="url(#clipTJ)" stroke="#9a9a9a" stroke-width="20.3" stroke-linecap="butt" fill="none">
<line x1="1238.8" y1="1491.9" x2="1024.3" y2="1815.2"/>
<line x1="1222.1" y1="1517.0" x2="1440.8" y2="1814.6"/>
<line x1="1253.8" y1="1560.1" x2="1084.2" y2="1815.2"/>
<line x1="1201.9" y1="1638.1" x2="1331.6" y2="1814.6"/>
<line x1="1268.9" y1="1729.3" x2="1211.8" y2="1815.2"/>
</g>
<line x1="1035.4" y1="1514.0" x2="1224.0" y2="1514.0" stroke="#000" stroke-width="4.3" stroke-dasharray="9.6 10.4"/>
<line x1="1035.4" y1="1567.3" x2="1249.0" y2="1567.3" stroke="#000" stroke-width="4.3" stroke-dasharray="9.6 10.4"/>
<line x1="1035.4" y1="1645.7" x2="1203.0" y2="1645.7" stroke="#000" stroke-width="4.3" stroke-dasharray="9.6 10.4"/>
<line x1="1035.4" y1="1731.8" x2="1268.5" y2="1731.8" stroke="#000" stroke-width="4.3" stroke-dasharray="9.6 10.4"/>
<line x1="1035.4" y1="1763.4" x2="1063.0" y2="1763.4" stroke="#000" stroke-width="4.3" stroke-dasharray="9.6 10.4"/>
<text x="1017.6" y="1508.8" font-size="21.4" text-anchor="start" font-weight="normal" font-style="normal" fill="#1a1a1a" >DIIS</text>
<text x="1014.5" y="1563.3" font-size="21.4" text-anchor="start" font-weight="normal" font-style="normal" fill="#1a1a1a" >ISCH</text>
<text x="1009.3" y="1641.0" font-size="21.4" text-anchor="start" font-weight="normal" font-style="normal" fill="#1a1a1a" >CHEU</text>
<text x="1008.3" y="1727.1" font-size="21.4" text-anchor="start" font-weight="normal" font-style="normal" fill="#1a1a1a" >EUUS</text>
<text x="1010.2" y="1757.9" font-size="21.4" text-anchor="start" font-weight="normal" font-style="normal" fill="#1a1a1a" >USDI</text>
<text x="1011.4" y="1795.4" font-size="21.4" text-anchor="start" font-weight="normal" font-style="normal" fill="#1a1a1a" >NDIC</text>
<text x="1069.8" y="1795.4" font-size="21.4" text-anchor="start" font-weight="normal" font-style="normal" fill="#1a1a1a" >NCHNa</text>
<text x="1198.4" y="1795.4" font-size="21.4" text-anchor="start" font-weight="normal" font-style="normal" fill="#1a1a1a" >NUSA</text>
<text x="1285.1" y="1793.3" font-size="21.4" text-anchor="start" font-weight="normal" font-style="normal" fill="#1a1a1a" >NEUR</text>
<text x="1399.8" y="1793.3" font-size="21.4" text-anchor="start" font-weight="normal" font-style="normal" fill="#1a1a1a" >NISR</text>
<text x="1014.5" y="1817.0" font-size="21.4" text-anchor="start" font-weight="bold" font-style="normal" fill="#000" >DIC</text>
<text x="1069.8" y="1817.9" font-size="21.4" text-anchor="start" font-weight="bold" font-style="normal" fill="#000" >CHNa</text>
<text x="1201.5" y="1817.0" font-size="21.4" text-anchor="start" font-weight="bold" font-style="normal" fill="#000" >USA</text>
<text x="1295.2" y="1817.0" font-size="21.4" text-anchor="start" font-weight="bold" font-style="normal" fill="#000" >EUR</text>
<text x="1410.5" y="1817.0" font-size="21.4" text-anchor="start" font-weight="bold" font-style="normal" fill="#000" >ISR</text>
<text x="1265.2" y="1535.0" font-size="25" text-anchor="start" font-weight="bold" font-style="normal" fill="#000" >Scenario Ja</text>
<path d="M1063.0,1751.1 L1219.9,1751.1 L1219.9,1744.0 L1242.9,1761.4 L1219.9,1777.9 L1219.9,1771.7 L1063.0,1771.7 Z" fill="#0563B3"/>
<text x="1124.5" y="1768.7" font-size="21" text-anchor="start" font-weight="bold" font-style="normal" fill="#000" >ADM</text>
<rect x="134.2" y="1890.8" width="1305.3" height="65.4" fill="#cccccc"/>
<rect x="134.2" y="1961.9" width="1305.3" height="64.7" fill="#cccccc"/>
<rect x="167.2" y="1941.2" width="3.0" height="15.4" fill="#0000ff"/>
<rect x="184.1" y="1952.2" width="3.0" height="4.4" fill="#11ee11"/>
<rect x="194.3" y="1949.8" width="3.0" height="6.8" fill="#11ee11"/>
<rect x="200.1" y="1947.2" width="3.0" height="9.4" fill="#11ee11"/>
<rect x="227.4" y="1938.6" width="3.0" height="13.6" fill="#0000ff"/>
<rect x="227.4" y="1952.2" width="3.0" height="4.4" fill="#11ee11"/>
<rect x="238.4" y="1927.5" width="3.0" height="29.1" fill="#ff0000"/>
<rect x="246.2" y="1952.2" width="3.0" height="4.4" fill="#11ee11"/>
<rect x="257.3" y="1952.2" width="3.0" height="4.4" fill="#11ee11"/>
<rect x="273.9" y="1952.2" width="3.0" height="4.4" fill="#11ee11"/>
<rect x="282.3" y="1952.2" width="3.0" height="4.4" fill="#11ee11"/>
<rect x="290.3" y="1938.6" width="3.0" height="13.6" fill="#0000ff"/>
<rect x="290.3" y="1952.2" width="3.0" height="4.4" fill="#11ee11"/>
<rect x="296.0" y="1908.5" width="3.0" height="30.1" fill="#ff0000"/>
<rect x="296.0" y="1938.6" width="3.0" height="13.6" fill="#0000ff"/>
<rect x="296.0" y="1952.2" width="3.0" height="4.4" fill="#11ee11"/>
<rect x="312.0" y="1938.6" width="3.0" height="10.0" fill="#ff0000"/>
<rect x="312.0" y="1948.6" width="3.0" height="8.0" fill="#11ee11"/>
<rect x="333.7" y="1938.6" width="3.0" height="13.6" fill="#0000ff"/>
<rect x="333.7" y="1952.2" width="3.0" height="4.4" fill="#11ee11"/>
<rect x="350.1" y="1952.2" width="3.0" height="4.4" fill="#11ee11"/>
<rect x="353.5" y="1952.2" width="3.0" height="4.4" fill="#ff0000"/>
<rect x="385.2" y="1952.2" width="3.0" height="4.4" fill="#11ee11"/>
<rect x="391.2" y="1949.8" width="3.0" height="6.8" fill="#11ee11"/>
<rect x="399.2" y="1947.2" width="3.0" height="9.4" fill="#ffff00"/>
<rect x="402.2" y="1949.8" width="3.0" height="6.8" fill="#ff0000"/>
<rect x="407.3" y="1914.1" width="3.0" height="39.1" fill="#ff0000"/>
<rect x="407.3" y="1953.2" width="3.0" height="3.4" fill="#ffff00"/>
<rect x="410.3" y="1939.2" width="3.0" height="3.0" fill="#ff0000"/>
<rect x="410.3" y="1942.2" width="3.0" height="14.4" fill="#0000ff"/>
<rect x="412.9" y="1949.8" width="3.0" height="6.8" fill="#11ee11"/>
<rect x="170.2" y="2001.3" width="3.0" height="2.6" fill="#ff0000"/>
<rect x="170.2" y="2003.9" width="3.0" height="13.4" fill="#0000ff"/>
<rect x="170.2" y="2017.4" width="3.0" height="5.0" fill="#ffff00"/>
<rect x="170.2" y="2022.4" width="3.0" height="5.0" fill="#11ee11"/>
<rect x="194.3" y="2020.4" width="3.0" height="7.0" fill="#11ee11"/>
<rect x="200.1" y="2018.0" width="3.0" height="9.4" fill="#11ee11"/>
<rect x="224.2" y="1973.9" width="3.0" height="35.5" fill="#ff0000"/>
<rect x="224.2" y="2009.4" width="3.0" height="18.0" fill="#0000ff"/>
<rect x="226.8" y="2009.4" width="3.0" height="18.0" fill="#0000ff"/>
<rect x="238.4" y="1998.3" width="3.0" height="29.1" fill="#ff0000"/>
<rect x="212.7" y="2025.4" width="3.0" height="2.0" fill="#11ee11"/>
<rect x="256.9" y="2025.4" width="3.0" height="2.0" fill="#11ee11"/>
<rect x="273.9" y="2025.4" width="3.0" height="2.0" fill="#11ee11"/>
<rect x="281.9" y="2025.4" width="3.0" height="2.0" fill="#11ee11"/>
<rect x="290.3" y="2009.4" width="3.0" height="18.0" fill="#0000ff"/>
<rect x="296.0" y="1979.3" width="3.0" height="30.1" fill="#ff0000"/>
<rect x="296.0" y="2009.4" width="3.0" height="18.0" fill="#0000ff"/>
<rect x="401.8" y="2020.4" width="3.0" height="7.0" fill="#ff0000"/>
<rect x="426.6" y="1952.2" width="3.0" height="4.4" fill="#ff0000"/>
<rect x="432.2" y="1946.8" width="3.0" height="9.8" fill="#ffff00"/>
<rect x="440.2" y="1946.8" width="3.0" height="9.8" fill="#11ee11"/>
<rect x="445.6" y="1952.2" width="3.0" height="4.4" fill="#ff0000"/>
<rect x="448.6" y="1941.2" width="3.0" height="15.4" fill="#0000ff"/>
<rect x="451.2" y="1946.8" width="3.0" height="9.8" fill="#ffff00"/>
<rect x="456.7" y="1938.6" width="3.0" height="8.2" fill="#ffff00"/>
<rect x="456.7" y="1946.8" width="3.0" height="9.8" fill="#11ee11"/>
<rect x="473.1" y="1952.2" width="3.0" height="4.4" fill="#ff0000"/>
<rect x="521.8" y="1952.2" width="3.0" height="4.4" fill="#11ee11"/>
<rect x="524.8" y="1949.8" width="3.0" height="6.8" fill="#11ee11"/>
<rect x="601.0" y="1906.1" width="3.0" height="32.5" fill="#ff0000"/>
<rect x="601.0" y="1938.6" width="3.0" height="13.6" fill="#0000ff"/>
<rect x="601.0" y="1952.2" width="3.0" height="4.4" fill="#11ee11"/>
<rect x="612.1" y="1906.1" width="3.0" height="35.1" fill="#ff0000"/>
<rect x="612.1" y="1941.2" width="3.0" height="15.4" fill="#0000ff"/>
<rect x="625.7" y="1938.6" width="3.0" height="13.6" fill="#0000ff"/>
<rect x="625.7" y="1952.2" width="3.0" height="4.4" fill="#11ee11"/>
<rect x="631.5" y="1952.2" width="3.0" height="4.4" fill="#11ee11"/>
<rect x="634.1" y="1922.1" width="3.0" height="14.0" fill="#0000ff"/>
<rect x="634.1" y="1936.2" width="3.0" height="8.0" fill="#ffff00"/>
<rect x="634.1" y="1944.2" width="3.0" height="12.4" fill="#11ee11"/>
<rect x="639.1" y="1946.8" width="3.0" height="9.8" fill="#ffff00"/>
<rect x="644.7" y="1908.5" width="3.0" height="30.1" fill="#ff0000"/>
<rect x="644.7" y="1938.6" width="3.0" height="13.6" fill="#0000ff"/>
<rect x="644.7" y="1952.2" width="3.0" height="4.4" fill="#11ee11"/>
<rect x="647.5" y="1946.8" width="3.0" height="3.4" fill="#ffff00"/>
<rect x="647.5" y="1950.2" width="3.0" height="6.4" fill="#11ee11"/>
<rect x="650.2" y="1952.2" width="3.0" height="4.4" fill="#ff0000"/>
<rect x="402.1" y="2020.4" width="3.0" height="7.0" fill="#ff0000"/>
<rect x="421.0" y="1998.3" width="3.0" height="29.1" fill="#ff0000"/>
<rect x="459.3" y="2009.4" width="3.0" height="9.0" fill="#ffff00"/>
<rect x="459.3" y="2018.4" width="3.0" height="9.0" fill="#11ee11"/>
<rect x="521.8" y="2023.4" width="3.0" height="4.0" fill="#11ee11"/>
<rect x="524.8" y="2020.8" width="3.0" height="6.6" fill="#11ee11"/>
<rect x="601.0" y="1976.7" width="3.0" height="32.7" fill="#ff0000"/>
<rect x="601.0" y="2009.4" width="3.0" height="13.0" fill="#0000ff"/>
<rect x="601.0" y="2022.4" width="3.0" height="5.0" fill="#11ee11"/>
<rect x="612.1" y="2009.4" width="3.0" height="14.0" fill="#0000ff"/>
<rect x="612.1" y="2023.4" width="3.0" height="4.0" fill="#11ee11"/>
<rect x="614.7" y="2001.3" width="3.0" height="23.1" fill="#ff0000"/>
<rect x="614.7" y="2024.4" width="3.0" height="3.0" fill="#ffff00"/>
<rect x="617.1" y="2023.4" width="3.0" height="4.0" fill="#ffff00"/>
<rect x="636.7" y="1976.7" width="3.0" height="32.7" fill="#ff0000"/>
<rect x="636.7" y="2009.4" width="3.0" height="9.0" fill="#ffff00"/>
<rect x="636.7" y="2018.4" width="3.0" height="9.0" fill="#11ee11"/>
<rect x="648.5" y="1946.5" width="3.0" height="8.5" fill="#ffff00"/>
<rect x="650.3" y="1952.4" width="3.0" height="2.6" fill="#ff0000"/>
<rect x="655.1" y="1941.3" width="3.0" height="11.0" fill="#0000ff"/>
<rect x="655.1" y="1952.4" width="3.0" height="2.6" fill="#ffff00"/>
<rect x="662.0" y="1897.2" width="3.0" height="33.1" fill="#ff0000"/>
<rect x="662.0" y="1930.3" width="3.0" height="14.0" fill="#0000ff"/>
<rect x="662.0" y="1944.3" width="3.0" height="8.1" fill="#ffff00"/>
<rect x="662.0" y="1952.4" width="3.0" height="2.6" fill="#11ee11"/>
<rect x="666.9" y="1906.0" width="3.0" height="32.4" fill="#ff0000"/>
<rect x="666.9" y="1938.4" width="3.0" height="14.0" fill="#0000ff"/>
<rect x="666.9" y="1952.4" width="3.0" height="2.6" fill="#11ee11"/>
<rect x="669.8" y="1922.2" width="3.0" height="32.8" fill="#ff0000"/>
<rect x="675.0" y="1903.1" width="3.0" height="33.1" fill="#ff0000"/>
<rect x="675.0" y="1936.2" width="3.0" height="13.2" fill="#0000ff"/>
<rect x="675.0" y="1949.4" width="3.0" height="5.6" fill="#ffff00"/>
<rect x="677.9" y="1900.9" width="3.0" height="45.6" fill="#ff0000"/>
<rect x="677.9" y="1946.5" width="3.0" height="8.5" fill="#ffff00"/>
<rect x="680.1" y="1946.5" width="3.0" height="8.5" fill="#ffff00"/>
<rect x="683.5" y="1949.4" width="3.0" height="5.6" fill="#11ee11"/>
<rect x="688.5" y="1900.1" width="3.0" height="33.1" fill="#ff0000"/>
<rect x="688.5" y="1933.2" width="3.0" height="13.2" fill="#0000ff"/>
<rect x="688.5" y="1946.5" width="3.0" height="5.9" fill="#ffff00"/>
<rect x="688.5" y="1952.4" width="3.0" height="2.6" fill="#11ee11"/>
<rect x="693.8" y="1903.1" width="3.0" height="35.3" fill="#ff0000"/>
<rect x="693.8" y="1938.4" width="3.0" height="8.1" fill="#0000ff"/>
<rect x="693.8" y="1946.5" width="3.0" height="8.5" fill="#ffff00"/>
<rect x="716.1" y="1933.2" width="3.0" height="21.8" fill="#ff0000"/>
<rect x="718.8" y="1906.0" width="3.0" height="46.3" fill="#ff0000"/>
<rect x="718.8" y="1952.4" width="3.0" height="2.6" fill="#11ee11"/>
<rect x="721.3" y="1920.0" width="3.0" height="32.4" fill="#ff0000"/>
<rect x="721.3" y="1952.4" width="3.0" height="2.6" fill="#11ee11"/>
<rect x="724.2" y="1922.2" width="3.0" height="30.1" fill="#ff0000"/>
<rect x="724.2" y="1952.4" width="3.0" height="2.6" fill="#11ee11"/>
<rect x="729.4" y="1949.4" width="3.0" height="5.6" fill="#ffff00"/>
<rect x="732.3" y="1906.0" width="3.0" height="32.4" fill="#ff0000"/>
<rect x="732.3" y="1938.4" width="3.0" height="11.0" fill="#0000ff"/>
<rect x="732.3" y="1949.4" width="3.0" height="5.6" fill="#11ee11"/>
<rect x="735.3" y="1938.4" width="3.0" height="14.0" fill="#0000ff"/>
<rect x="735.3" y="1952.4" width="3.0" height="2.6" fill="#ffff00"/>
<rect x="738.2" y="1938.4" width="3.0" height="14.0" fill="#0000ff"/>
<rect x="738.2" y="1952.4" width="3.0" height="2.6" fill="#ffff00"/>
<rect x="748.5" y="1906.0" width="3.0" height="32.4" fill="#ff0000"/>
<rect x="748.5" y="1938.4" width="3.0" height="14.0" fill="#0000ff"/>
<rect x="748.5" y="1952.4" width="3.0" height="2.6" fill="#11ee11"/>
<rect x="756.6" y="1894.3" width="3.0" height="41.9" fill="#ff0000"/>
<rect x="756.6" y="1936.2" width="3.0" height="13.2" fill="#0000ff"/>
<rect x="756.6" y="1949.4" width="3.0" height="2.9" fill="#ffff00"/>
<rect x="756.6" y="1952.4" width="3.0" height="2.6" fill="#11ee11"/>
<rect x="758.8" y="1897.2" width="3.0" height="41.9" fill="#ff0000"/>
<rect x="758.8" y="1939.1" width="3.0" height="13.2" fill="#0000ff"/>
<rect x="758.8" y="1952.4" width="3.0" height="2.6" fill="#11ee11"/>
<rect x="761.7" y="1897.9" width="3.0" height="29.4" fill="#ff0000"/>
<rect x="761.7" y="1927.4" width="3.0" height="14.0" fill="#0000ff"/>
<rect x="761.7" y="1941.3" width="3.0" height="5.1" fill="#ffff00"/>
<rect x="761.7" y="1946.5" width="3.0" height="8.5" fill="#11ee11"/>
<rect x="764.7" y="1903.8" width="3.0" height="29.4" fill="#ff0000"/>
<rect x="764.7" y="1933.2" width="3.0" height="13.2" fill="#0000ff"/>
<rect x="764.7" y="1946.5" width="3.0" height="8.5" fill="#11ee11"/>
<rect x="767.9" y="1900.1" width="3.0" height="38.2" fill="#ff0000"/>
<rect x="767.9" y="1938.4" width="3.0" height="11.0" fill="#0000ff"/>
<rect x="767.9" y="1949.4" width="3.0" height="5.6" fill="#11ee11"/>
<rect x="770.6" y="1941.3" width="3.0" height="8.1" fill="#ffff00"/>
<rect x="770.6" y="1949.4" width="3.0" height="5.6" fill="#11ee11"/>
<rect x="773.5" y="1952.4" width="3.0" height="2.6" fill="#ffff00"/>
<rect x="778.6" y="1938.4" width="3.0" height="8.1" fill="#ffff00"/>
<rect x="778.6" y="1946.5" width="3.0" height="8.5" fill="#11ee11"/>
<rect x="781.6" y="1944.3" width="3.0" height="10.7" fill="#ff0000"/>
<rect x="783.8" y="1903.1" width="3.0" height="33.1" fill="#ff0000"/>
<rect x="783.8" y="1936.2" width="3.0" height="13.2" fill="#0000ff"/>
<rect x="783.8" y="1949.4" width="3.0" height="2.9" fill="#ffff00"/>
<rect x="783.8" y="1952.4" width="3.0" height="2.6" fill="#11ee11"/>
<rect x="786.7" y="1905.3" width="3.0" height="33.1" fill="#ff0000"/>
<rect x="786.7" y="1938.4" width="3.0" height="14.0" fill="#0000ff"/>
<rect x="786.7" y="1952.4" width="3.0" height="2.6" fill="#11ee11"/>
<rect x="789.7" y="1894.3" width="3.0" height="58.1" fill="#ff0000"/>
<rect x="789.7" y="1952.4" width="3.0" height="2.6" fill="#ffff00"/>
<rect x="794.8" y="1906.0" width="3.0" height="32.4" fill="#ff0000"/>
<rect x="794.8" y="1938.4" width="3.0" height="14.0" fill="#0000ff"/>
<rect x="794.8" y="1952.4" width="3.0" height="2.6" fill="#11ee11"/>
<rect x="797.8" y="1922.2" width="3.0" height="30.1" fill="#ff0000"/>
<rect x="797.8" y="1952.4" width="3.0" height="2.6" fill="#ffff00"/>
<rect x="800.7" y="1897.9" width="3.0" height="40.4" fill="#ff0000"/>
<rect x="800.7" y="1938.4" width="3.0" height="14.0" fill="#0000ff"/>
<rect x="800.7" y="1952.4" width="3.0" height="2.6" fill="#11ee11"/>
<rect x="802.9" y="1920.0" width="3.0" height="32.4" fill="#ff0000"/>
<rect x="802.9" y="1952.4" width="3.0" height="2.6" fill="#11ee11"/>
<rect x="805.9" y="1952.4" width="3.0" height="2.6" fill="#ff0000"/>
<rect x="814.4" y="1952.4" width="3.0" height="2.6" fill="#ffff00"/>
<rect x="819.4" y="1949.4" width="3.0" height="5.6" fill="#11ee11"/>
<rect x="830.6" y="1952.4" width="3.0" height="2.6" fill="#11ee11"/>
<rect x="833.5" y="1906.0" width="3.0" height="32.4" fill="#ff0000"/>
<rect x="833.5" y="1938.4" width="3.0" height="8.1" fill="#0000ff"/>
<rect x="833.5" y="1946.5" width="3.0" height="8.5" fill="#ffff00"/>
<rect x="852.2" y="1941.3" width="3.0" height="13.7" fill="#0000ff"/>
<rect x="697.0" y="2022.9" width="3.0" height="2.2" fill="#11ee11"/>
<rect x="699.7" y="1976.6" width="3.0" height="32.4" fill="#ff0000"/>
<rect x="699.7" y="2009.0" width="3.0" height="14.0" fill="#0000ff"/>
<rect x="699.7" y="2022.9" width="3.0" height="2.2" fill="#11ee11"/>
<rect x="724.2" y="2022.9" width="3.0" height="2.2" fill="#11ee11"/>
<rect x="732.3" y="1989.9" width="3.0" height="33.1" fill="#ff0000"/>
<rect x="732.3" y="2022.9" width="3.0" height="2.2" fill="#11ee11"/>
<rect x="737.9" y="1992.8" width="3.0" height="32.4" fill="#ff0000"/>
<rect x="786.7" y="1976.6" width="3.0" height="32.4" fill="#ff0000"/>
<rect x="786.7" y="2009.0" width="3.0" height="14.0" fill="#0000ff"/>
<rect x="786.7" y="2022.9" width="3.0" height="2.2" fill="#11ee11"/>
<rect x="789.7" y="1973.7" width="3.0" height="33.1" fill="#ff0000"/>
<rect x="789.7" y="2006.8" width="3.0" height="13.2" fill="#0000ff"/>
<rect x="789.7" y="2020.0" width="3.0" height="2.9" fill="#ffff00"/>
<rect x="789.7" y="2022.9" width="3.0" height="2.2" fill="#11ee11"/>
<rect x="805.9" y="2022.9" width="3.0" height="2.2" fill="#ff0000"/>
<rect x="830.6" y="2022.9" width="3.0" height="2.2" fill="#ffff00"/>
<rect x="850.0" y="2022.9" width="3.0" height="2.2" fill="#11ee11"/>
<rect x="873.9" y="1903.5" width="3.0" height="34.9" fill="#ff0000"/>
<rect x="873.9" y="1938.4" width="3.0" height="14.0" fill="#0000ff"/>
<rect x="873.9" y="1952.4" width="3.0" height="2.6" fill="#11ee11"/>
<rect x="879.8" y="1895.0" width="3.0" height="43.4" fill="#ff0000"/>
<rect x="879.8" y="1938.4" width="3.0" height="14.0" fill="#0000ff"/>
<rect x="879.8" y="1952.4" width="3.0" height="2.6" fill="#11ee11"/>
<rect x="882.3" y="1889.4" width="3.0" height="49.0" fill="#ff0000"/>
<rect x="882.3" y="1938.4" width="3.0" height="14.0" fill="#0000ff"/>
<rect x="882.3" y="1952.4" width="3.0" height="2.6" fill="#11ee11"/>
<rect x="885.0" y="1906.0" width="3.0" height="32.4" fill="#ff0000"/>
<rect x="885.0" y="1938.4" width="3.0" height="14.0" fill="#0000ff"/>
<rect x="885.0" y="1952.4" width="3.0" height="2.6" fill="#11ee11"/>
<rect x="928.8" y="1946.8" width="3.0" height="8.2" fill="#ffff00"/>
<rect x="931.6" y="1944.3" width="3.0" height="10.7" fill="#ff0000"/>
<rect x="942.3" y="1946.8" width="3.0" height="8.2" fill="#ffff00"/>
<rect x="945.3" y="1952.4" width="3.0" height="2.6" fill="#ffff00"/>
<rect x="958.8" y="1906.0" width="3.0" height="32.4" fill="#ff0000"/>
<rect x="958.8" y="1938.4" width="3.0" height="14.0" fill="#0000ff"/>
<rect x="958.8" y="1952.4" width="3.0" height="2.6" fill="#11ee11"/>
<rect x="961.7" y="1946.8" width="3.0" height="8.2" fill="#ffff00"/>
<rect x="980.6" y="1941.3" width="3.0" height="13.7" fill="#0000ff"/>
<rect x="983.2" y="1949.4" width="3.0" height="5.6" fill="#ff0000"/>
<rect x="985.7" y="1938.4" width="3.0" height="14.0" fill="#0000ff"/>
<rect x="985.7" y="1952.4" width="3.0" height="2.6" fill="#11ee11"/>
<rect x="988.9" y="1938.4" width="3.0" height="14.0" fill="#0000ff"/>
<rect x="988.9" y="1952.4" width="3.0" height="2.6" fill="#11ee11"/>
<rect x="1005.1" y="1952.4" width="3.0" height="2.6" fill="#11ee11"/>
<rect x="1010.7" y="1906.0" width="3.0" height="32.4" fill="#ff0000"/>
<rect x="1010.7" y="1938.4" width="3.0" height="14.0" fill="#0000ff"/>
<rect x="1010.7" y="1952.4" width="3.0" height="2.6" fill="#11ee11"/>
<rect x="1013.6" y="1952.4" width="3.0" height="2.6" fill="#11ee11"/>
<rect x="907.0" y="2022.9" width="3.0" height="2.2" fill="#ffff00"/>
<rect x="939.7" y="2020.3" width="3.0" height="4.9" fill="#ff0000"/>
<rect x="1054.1" y="2022.9" width="3.0" height="2.2" fill="#11ee11"/>
<rect x="1065.1" y="2020.3" width="3.0" height="2.6" fill="#ffff00"/>
<rect x="1065.1" y="2022.9" width="3.0" height="2.2" fill="#11ee11"/>
<rect x="1100.9" y="1949.4" width="3.0" height="2.9" fill="#ff0000"/>
<rect x="1100.9" y="1952.4" width="3.0" height="2.6" fill="#11ee11"/>
<rect x="1108.5" y="1952.4" width="3.0" height="2.6" fill="#11ee11"/>
<rect x="1112.2" y="1952.4" width="3.0" height="2.6" fill="#11ee11"/>
<rect x="1117.0" y="1935.7" width="3.0" height="13.7" fill="#0000ff"/>
<rect x="1117.0" y="1949.4" width="3.0" height="5.6" fill="#11ee11"/>
<rect x="1128.1" y="1938.4" width="3.0" height="16.6" fill="#ff0000"/>
<rect x="1155.3" y="1906.0" width="3.0" height="32.4" fill="#ff0000"/>
<rect x="1155.3" y="1938.4" width="3.0" height="14.0" fill="#0000ff"/>
<rect x="1155.3" y="1952.4" width="3.0" height="2.6" fill="#11ee11"/>
<rect x="1166.3" y="1952.4" width="3.0" height="2.6" fill="#11ee11"/>
<rect x="1177.3" y="1952.4" width="3.0" height="2.6" fill="#11ee11"/>
<rect x="1193.5" y="1949.4" width="3.0" height="2.9" fill="#ff0000"/>
<rect x="1193.5" y="1952.4" width="3.0" height="2.6" fill="#11ee11"/>
<rect x="1212.6" y="1941.3" width="3.0" height="13.7" fill="#0000ff"/>
<rect x="1245.0" y="1952.4" width="3.0" height="2.6" fill="#ff0000"/>
<rect x="1247.9" y="1949.4" width="3.0" height="2.9" fill="#ff0000"/>
<rect x="1247.9" y="1952.4" width="3.0" height="2.6" fill="#ffff00"/>
<rect x="1264.4" y="1952.4" width="3.0" height="2.6" fill="#11ee11"/>
<rect x="1286.1" y="1952.4" width="3.0" height="2.6" fill="#ffff00"/>
<rect x="1111.1" y="2022.9" width="3.0" height="2.2" fill="#11ee11"/>
<rect x="1114.4" y="2012.2" width="3.0" height="8.1" fill="#ffff00"/>
<rect x="1114.4" y="2020.3" width="3.0" height="4.9" fill="#11ee11"/>
<rect x="1120.0" y="2022.9" width="3.0" height="2.2" fill="#ff0000"/>
<rect x="1128.1" y="2009.4" width="3.0" height="13.5" fill="#0000ff"/>
<rect x="1128.1" y="2022.9" width="3.0" height="2.2" fill="#11ee11"/>
<rect x="1133.5" y="2009.4" width="3.0" height="15.7" fill="#ff0000"/>
<rect x="1138.8" y="2009.4" width="3.0" height="13.5" fill="#0000ff"/>
<rect x="1138.8" y="2022.9" width="3.0" height="2.2" fill="#11ee11"/>
<rect x="1144.2" y="2012.2" width="3.0" height="12.9" fill="#0000ff"/>
<rect x="1166.3" y="1998.7" width="3.0" height="8.1" fill="#ff0000"/>
<rect x="1166.3" y="2006.8" width="3.0" height="13.5" fill="#0000ff"/>
<rect x="1166.3" y="2020.3" width="3.0" height="4.9" fill="#11ee11"/>
<rect x="1182.9" y="2017.5" width="3.0" height="5.4" fill="#ff0000"/>
<rect x="1182.9" y="2022.9" width="3.0" height="2.2" fill="#11ee11"/>
<rect x="1190.6" y="2022.9" width="3.0" height="2.2" fill="#ffff00"/>
<rect x="1286.6" y="1952.4" width="3.0" height="2.6" fill="#ffff00"/>
<rect x="1373.8" y="1952.4" width="3.0" height="2.6" fill="#ff0000"/>
<rect x="1411.6" y="1952.4" width="3.0" height="2.6" fill="#ff0000"/>
<rect x="1420.1" y="1946.8" width="3.0" height="8.2" fill="#ffff00"/>
<rect x="1431.1" y="1906.0" width="3.0" height="32.4" fill="#ff0000"/>
<rect x="1431.1" y="1938.4" width="3.0" height="2.9" fill="#0000ff"/>
<rect x="1431.1" y="1941.3" width="3.0" height="11.0" fill="#ff0000"/>
<rect x="1431.1" y="1952.4" width="3.0" height="2.6" fill="#11ee11"/>
<rect x="1316.4" y="2012.2" width="3.0" height="5.3" fill="#0000ff"/>
<rect x="1316.4" y="2017.5" width="3.0" height="2.8" fill="#ffff00"/>
<rect x="1316.4" y="2020.3" width="3.0" height="4.9" fill="#11ee11"/>
<rect x="1324.8" y="1992.8" width="3.0" height="32.4" fill="#ff0000"/>
<rect x="1354.6" y="2009.4" width="3.0" height="8.1" fill="#ffff00"/>
<rect x="1354.6" y="2017.5" width="3.0" height="7.6" fill="#11ee11"/>
<rect x="1368.2" y="2001.2" width="3.0" height="13.7" fill="#0000ff"/>
<rect x="1368.2" y="2014.9" width="3.0" height="10.3" fill="#ffff00"/>
<rect x="1371.1" y="2017.5" width="3.0" height="7.6" fill="#ffff00"/>
<rect x="1395.4" y="1976.6" width="3.0" height="35.6" fill="#ff0000"/>
<rect x="1395.4" y="2012.2" width="3.0" height="10.7" fill="#0000ff"/>
<rect x="1395.4" y="2022.9" width="3.0" height="2.2" fill="#ffff00"/>
<text x="201.3" y="1899.8" font-size="17" text-anchor="middle" font-weight="bold" font-style="normal" fill="#000" >*</text>
<text x="207.4" y="1899.8" font-size="17" text-anchor="middle" font-weight="bold" font-style="normal" fill="#000" >*</text>
<text x="234.3" y="1899.8" font-size="17" text-anchor="middle" font-weight="bold" font-style="normal" fill="#000" >*</text>
<text x="245.7" y="1899.8" font-size="17" text-anchor="middle" font-weight="bold" font-style="normal" fill="#000" >*</text>
<text x="253.9" y="1899.8" font-size="17" text-anchor="middle" font-weight="bold" font-style="normal" fill="#000" >*</text>
<text x="265.2" y="1899.8" font-size="17" text-anchor="middle" font-weight="bold" font-style="normal" fill="#000" >*</text>
<text x="280.9" y="1899.8" font-size="17" text-anchor="middle" font-weight="bold" font-style="normal" fill="#000" >*</text>
<text x="289.1" y="1899.8" font-size="17" text-anchor="middle" font-weight="bold" font-style="normal" fill="#000" >*</text>
<text x="297.0" y="1899.8" font-size="17" text-anchor="middle" font-weight="bold" font-style="normal" fill="#000" >*</text>
<text x="303.0" y="1899.8" font-size="17" text-anchor="middle" font-weight="bold" font-style="normal" fill="#000" >*</text>
<text x="409.1" y="1899.8" font-size="17" text-anchor="middle" font-weight="bold" font-style="normal" fill="#000" >*</text>
<text x="528.0" y="1899.8" font-size="17" text-anchor="middle" font-weight="bold" font-style="normal" fill="#000" >*</text>
<text x="534.6" y="1899.8" font-size="17" text-anchor="middle" font-weight="bold" font-style="normal" fill="#000" >*</text>
<text x="608.1" y="1899.8" font-size="17" text-anchor="middle" font-weight="bold" font-style="normal" fill="#000" >*</text>
<text x="793.9" y="1899.8" font-size="17" text-anchor="middle" font-weight="bold" font-style="normal" fill="#000" >*</text>
<text x="796.9" y="1899.8" font-size="17" text-anchor="middle" font-weight="bold" font-style="normal" fill="#000" >*</text>
<text x="813.5" y="1899.8" font-size="17" text-anchor="middle" font-weight="bold" font-style="normal" fill="#000" >*</text>
<rect x="185.1" y="1960.1" width="120.5" height="65.8" fill="none" stroke="#ff0000" stroke-width="5"/>
<rect x="660.2" y="1891.9" width="182.6" height="65.7" fill="none" stroke="#ff0000" stroke-width="5.6"/>
<text x="102.1" y="1927.2" font-size="24.4" text-anchor="end" font-weight="normal" font-style="normal" fill="#000" >ARG</text>
<text x="102.1" y="1967.3" font-size="24.4" text-anchor="end" font-weight="normal" font-style="normal" fill="#000" >Chr-08</text>
<text x="100.5" y="2008.0" font-size="24.4" text-anchor="end" font-weight="normal" font-style="normal" fill="#000" >USA</text>
<text x="1450.8" y="1907.5" font-size="22.5" text-anchor="start" font-weight="normal" font-style="normal" fill="#000" textLength="37.85" lengthAdjust="spacingAndGlyphs" >310</text>
<text x="1450.6" y="1978.8" font-size="22.5" text-anchor="start" font-weight="normal" font-style="normal" fill="#000" >97</text>
<line x1="135.8" y1="2026.1" x2="135.8" y2="2039" stroke="#000" stroke-width="2.7"/>
<text x="135.8" y="2062.3" font-size="21" text-anchor="middle" font-weight="normal" font-style="normal" fill="#000" >0</text>
<line x1="245.1" y1="2026.1" x2="245.1" y2="2039" stroke="#000" stroke-width="2.7"/>
<text x="245.1" y="2062.3" font-size="21" text-anchor="middle" font-weight="normal" font-style="normal" fill="#000" >1</text>
<line x1="354.4" y1="2026.1" x2="354.4" y2="2039" stroke="#000" stroke-width="2.7"/>
<text x="354.4" y="2062.3" font-size="21" text-anchor="middle" font-weight="normal" font-style="normal" fill="#000" >2</text>
<line x1="463.7" y1="2026.1" x2="463.7" y2="2039" stroke="#000" stroke-width="2.7"/>
<text x="463.7" y="2062.3" font-size="21" text-anchor="middle" font-weight="normal" font-style="normal" fill="#000" >3</text>
<line x1="573.0" y1="2026.1" x2="573.0" y2="2039" stroke="#000" stroke-width="2.7"/>
<text x="573.0" y="2062.3" font-size="21" text-anchor="middle" font-weight="normal" font-style="normal" fill="#000" >4</text>
<line x1="682.3" y1="2026.1" x2="682.3" y2="2039" stroke="#000" stroke-width="2.7"/>
<text x="682.3" y="2062.3" font-size="21" text-anchor="middle" font-weight="normal" font-style="normal" fill="#000" >5</text>
<line x1="791.6" y1="2026.1" x2="791.6" y2="2039" stroke="#000" stroke-width="2.7"/>
<text x="791.6" y="2062.3" font-size="21" text-anchor="middle" font-weight="normal" font-style="normal" fill="#000" >6</text>
<line x1="900.9" y1="2026.1" x2="900.9" y2="2039" stroke="#000" stroke-width="2.7"/>
<text x="900.9" y="2062.3" font-size="21" text-anchor="middle" font-weight="normal" font-style="normal" fill="#000" >7</text>
<line x1="1010.2" y1="2026.1" x2="1010.2" y2="2039" stroke="#000" stroke-width="2.7"/>
<text x="1010.2" y="2062.3" font-size="21" text-anchor="middle" font-weight="normal" font-style="normal" fill="#000" >8</text>
<line x1="1119.5" y1="2026.1" x2="1119.5" y2="2039" stroke="#000" stroke-width="2.7"/>
<text x="1119.5" y="2062.3" font-size="21" text-anchor="middle" font-weight="normal" font-style="normal" fill="#000" >9</text>
<line x1="1228.8" y1="2026.1" x2="1228.8" y2="2039" stroke="#000" stroke-width="2.7"/>
<text x="1228.8" y="2062.3" font-size="21" text-anchor="middle" font-weight="normal" font-style="normal" fill="#000" >10</text>
<line x1="1338.1" y1="2026.1" x2="1338.1" y2="2039" stroke="#000" stroke-width="2.7"/>
<text x="1338.1" y="2062.3" font-size="21" text-anchor="middle" font-weight="normal" font-style="normal" fill="#000" >11</text>
<rect x="131.2" y="2093.5" width="13.4" height="12.8" fill="#22dd22"/>
<text x="152.8" y="2107.4" font-size="23.5" text-anchor="start" font-weight="normal" font-style="normal" fill="#1a1a1a" textLength="134.00" lengthAdjust="spacingAndGlyphs" >Outgroups</text>
<rect x="323.2" y="2093.5" width="13.4" height="12.8" fill="#ffd700"/>
<text x="345.0" y="2107.4" font-size="23.5" text-anchor="start" font-weight="normal" font-style="italic" fill="#1a1a1a" textLength="137.94" lengthAdjust="spacingAndGlyphs" >B.g. hordei</text>
<rect x="511.2" y="2093.5" width="13.4" height="12.8" fill="#0000ff"/>
<text x="533.3" y="2107.4" font-size="23.5" text-anchor="start" font-weight="normal" font-style="italic" fill="#1a1a1a" textLength="144.25" lengthAdjust="spacingAndGlyphs" >B.g. secalis</text>
<rect x="719.8" y="2093.5" width="13.4" height="12.8" fill="#ff0000"/>
<text x="741.1" y="2107.4" font-size="23.5" text-anchor="start" font-weight="normal" font-style="italic" fill="#1a1a1a" textLength="147.24" lengthAdjust="spacingAndGlyphs" >B.g. dicocci</text>
</svg>
</body></html>
